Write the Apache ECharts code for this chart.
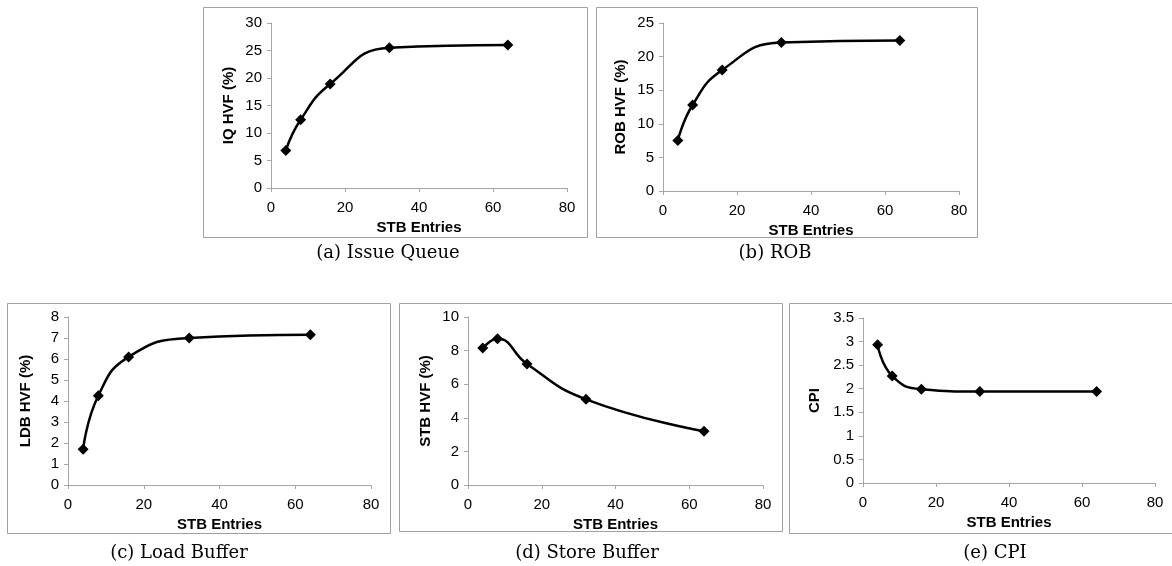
<!DOCTYPE html>
<html>
<head>
<meta charset="utf-8">
<script src="https://cdn.jsdelivr.net/npm/echarts@6/dist/echarts.min.js"></script>
<style>
html, body { margin: 0; padding: 0; background: #fff; }
#main { width: 1172px; height: 566px; }
</style>
</head>
<body>
<div id="main"></div>
<script>
// STB entries (x)
var stbEntries = [4, 8, 16, 32, 64];
// HVF / CPI values
var iqHvf = [6.8, 12.4, 18.9, 25.5, 26.0];
var robHvf = [7.5, 12.8, 18.0, 22.1, 22.4];
var ldbHvf = [1.7, 4.25, 6.1, 7.0, 7.15];
var stbHvf = [8.15, 8.7, 7.2, 5.1, 3.2];
var cpiVals = [2.93, 2.27, 1.99, 1.94, 1.94];

var yNames = ['IQ HVF (%)', 'ROB HVF (%)', 'LDB HVF (%)', 'STB HVF (%)', 'CPI'];
var captions = ['(a) Issue Queue', '(b) ROB', '(c) Load Buffer', '(d) Store Buffer', '(e) CPI'];
var yMax = [30, 25, 8, 10, 3.5];
var yStep = [5, 5, 1, 2, 0.5];
var allData = [iqHvf, robHvf, ldbHvf, stbHvf, cpiVals];

// layout of each panel: plot area and outer frame
var grids = [
    {left: 271, top: 23, width: 296, height: 165},
    {left: 663, top: 23, width: 296, height: 168},
    {left: 68, top: 317, width: 303, height: 168},
    {left: 468, top: 317, width: 295, height: 168},
    {left: 863, top: 318, width: 292, height: 165}
];
var frames = [
    [203, 7, 384, 230],
    [596, 7, 381, 230],
    [7, 303, 383, 230],
    [399, 303, 383, 228],
    [789, 303, 400, 230]
];
var capPos = [[388, 253], [775, 253], [179, 553], [587, 553], [995, 553]];
var yNameGap = [35, 35, 35, 35, 41];

var axisGray = '#a6a6a6';
var xAxes = [], yAxes = [], series = [], graphics = [];

for (var i = 0; i < 5; i++) {
    xAxes.push({
        gridIndex: i,
        type: 'value',
        min: 0, max: 80, interval: 20,
        name: 'STB Entries',
        nameLocation: 'middle',
        nameGap: 32,
        nameTextStyle: {fontFamily: 'Liberation Sans', fontWeight: 'bold', fontSize: 15, color: '#000'},
        axisLine: {lineStyle: {color: axisGray}},
        axisTick: {show: true, length: 4, lineStyle: {color: axisGray}},
        axisLabel: {fontFamily: 'Liberation Sans', fontSize: 15, color: '#000', margin: 12},
        splitLine: {show: false}
    });
    yAxes.push({
        gridIndex: i,
        type: 'value',
        min: 0, max: yMax[i], interval: yStep[i],
        name: yNames[i],
        nameLocation: 'middle',
        nameGap: yNameGap[i],
        nameTextStyle: {fontFamily: 'Liberation Sans', fontWeight: 'bold', fontSize: 15, color: '#000'},
        axisLine: {show: true, lineStyle: {color: axisGray}},
        axisTick: {show: true, length: 4, lineStyle: {color: axisGray}},
        axisLabel: {fontFamily: 'Liberation Sans', fontSize: 15, color: '#000', margin: 9},
        splitLine: {show: false}
    });
    var pts = [];
    for (var j = 0; j < stbEntries.length; j++) {
        pts.push([stbEntries[j], allData[i][j]]);
    }
    series.push({
        type: 'line',
        xAxisIndex: i,
        yAxisIndex: i,
        data: pts,
        smooth: 0.5,
        symbol: 'diamond',
        symbolSize: 11,
        lineStyle: {color: '#000', width: 2.5},
        itemStyle: {color: '#000'},
        animation: false
    });
    graphics.push({
        type: 'rect',
        shape: {x: frames[i][0] + 0.5, y: frames[i][1] + 0.5, width: frames[i][2], height: frames[i][3]},
        style: {fill: null, stroke: '#a0a0a0', lineWidth: 1}
    });
    graphics.push({
        type: 'text',
        x: capPos[i][0], y: capPos[i][1],
        style: {
            text: captions[i],
            font: '18px "DejaVu Serif"',
            fill: '#000',
            align: 'center',
            verticalAlign: 'middle'
        }
    });
}

var myChart = echarts.init(document.getElementById('main'));
var option = {
    animation: false,
    backgroundColor: '#fff',
    grid: grids,
    xAxis: xAxes,
    yAxis: yAxes,
    series: series,
    graphic: graphics
};
myChart.setOption(option);
</script>
</body>
</html>
